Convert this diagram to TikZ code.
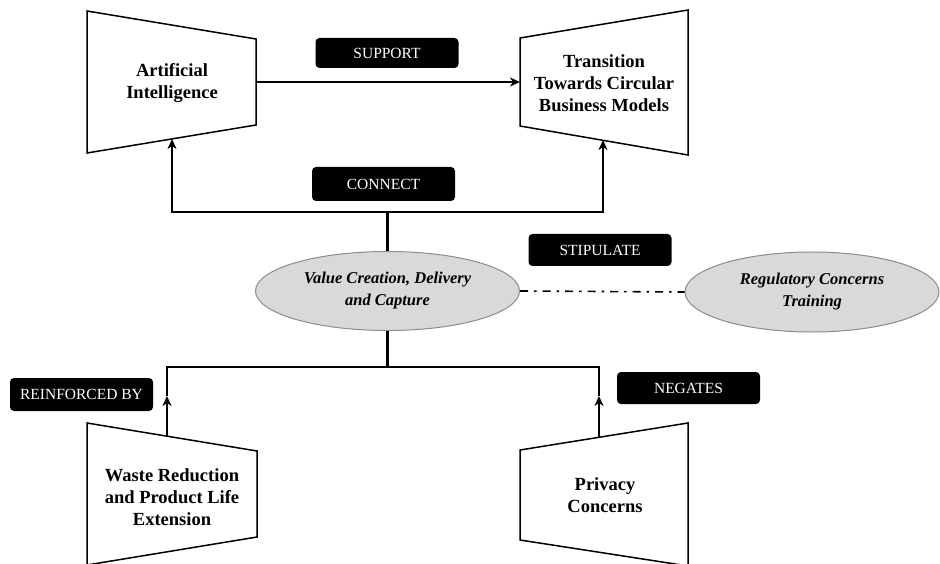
\documentclass[tikz,border=0pt]{standalone}
\usepackage{fontspec}
\setmainfont{Liberation Serif}
\usetikzlibrary{shapes.geometric,arrows.meta}
\begin{document}
\begin{tikzpicture}[x=1pt,y=-1pt,
 trap/.style={draw=black,line width=1.5pt,line join=miter},
 ttext/.style={align=center,font=\fontsize{18.5}{22}\selectfont\bfseries},
 ell/.style={ellipse,draw=black!45,fill=black!15,line width=1pt,align=center,
   font=\fontsize{16.5}{22}\selectfont\bfseries\itshape,inner sep=0pt},
 tag/.style={fill=black,rounded corners=4pt,text=white,
   font=\fontsize{15.5}{18}\selectfont,inner sep=0pt,minimum width=143pt},
 conn/.style={line width=2pt},
 bus/.style={line width=2.8pt},
 tip/.style={-{Stealth[length=10pt,width=9pt,inset=3pt]}}
]
\useasboundingbox (0,0) rectangle (940,564);

% trapezoid shapes
\draw[trap] (87,11) -- (256,39) -- (256,125) -- (87,153) -- cycle;
\draw[trap] (520,38) -- (688,10) -- (688,155) -- (520,126) -- cycle;
\draw[trap] (87,423) -- (257,451) -- (257,537) -- (87,565) -- cycle;
\draw[trap] (520,450) -- (688,423) -- (688,566) -- (520,540) -- cycle;

% text nodes
\node[ttext] (ai) at (172,83) {Artificial\\Intelligence};
\node[ttext] (tr) at (604,83) {Transition\\Towards Circular\\Business Models};
\node[ttext] (wr) at (172,497) {Waste Reduction\\and Product Life\\Extension};
\node[ttext] (pc) at (605,495) {Privacy\\Concerns};

\node[ell,minimum width=264pt,minimum height=79pt] (vc) at (387.5,291) {Value Creation, Delivery\\and Capture};
\node[ell,minimum width=254pt,minimum height=80pt] (rc) at (812,292) {Regulatory Concerns\\Training};

% connection points
\coordinate (aiE) at (256,82);
\coordinate (trW) at (520,82);
\coordinate (aiB) at (172,139);
\coordinate (trB) at (603,140);
\coordinate (busL) at (172,212);
\coordinate (busR) at (603,212);
\coordinate (lowL) at (167,367);
\coordinate (lowR) at (599,367);
\coordinate (wrT) at (167,436);
\coordinate (pcT) at (599,437);
\coordinate (wrA) at (167,396);
\coordinate (pcA) at (599,396);

% connectors
\draw[line width=1.5pt,tip] (aiE) -- (trW);
\draw[bus] (vc.north) -- (vc.north |- busL);
\draw[bus] ([xshift=-1pt]busL) -- ([xshift=1pt]busR);
\draw[conn,tip] (busL) -- (aiB);
\draw[conn,tip] (busR) -- (trB);

\draw[line width=1.6pt,dash pattern=on 8pt off 6pt on 2.5pt off 6pt] (vc.east) -- (rc.west);

\draw[bus] (vc.south) -- (vc.south |- lowL);
\draw[bus] ([xshift=-1pt]lowL) -- ([xshift=1pt]lowR);
\draw[conn,tip] (wrT) -- (wrA);
\draw[conn] (wrA) -- (lowL);
\draw[conn,tip] (pcT) -- (pcA);
\draw[conn] (pcA) -- (lowR);

% labels
\node[tag,minimum height=30pt] (lsup) at (387,53) {SUPPORT};
\node[tag,minimum height=34pt] (lcon) at (383.5,184) {CONNECT};
\node[tag,minimum height=32pt] (lsti) at (600,250) {STIPULATE};
\node[tag,minimum height=33pt] (lrei) at (81.5,394.5) {REINFORCED BY};
\node[tag,minimum height=32pt] (lneg) at (688.5,388) {NEGATES};
\end{tikzpicture}
\end{document}
